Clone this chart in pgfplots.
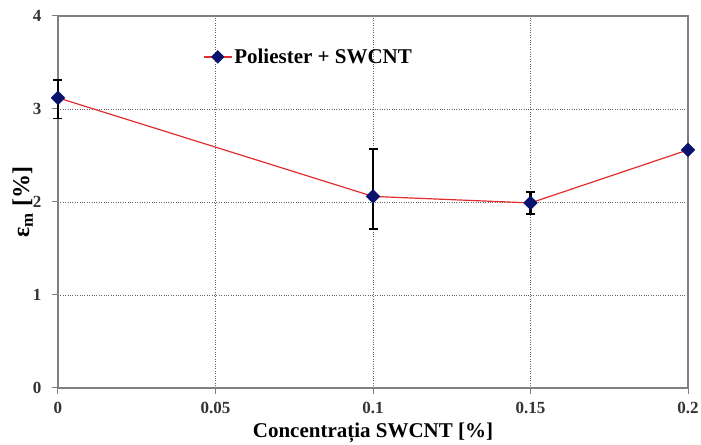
\documentclass[border=0pt]{standalone}
\usepackage{fontspec}
\setmainfont{Liberation Serif}
\usepackage{pgfplots}
\pgfplotsset{compat=1.18}
\definecolor{axgray}{RGB}{128,128,128}
\definecolor{linered}{RGB}{225,45,45}
\definecolor{navy}{RGB}{10,20,110}

\begin{document}
\begin{tikzpicture}
\begin{axis}[
  width=630pt,
  height=372pt,
  scale only axis,
  xmin=0, xmax=0.2,
  ymin=0, ymax=4,
  xtick={0,0.05,0.1,0.15,0.2},
  ytick={0,1,2,3,4},
  scaled ticks=false,
  xticklabel style={/pgf/number format/fixed,/pgf/number format/precision=2, yshift=-5pt},
  yticklabel style={xshift=-7pt},
  /pgf/number format/assume math mode=true,
  tick label style={font=\fontsize{17}{19}\selectfont\bfseries, text=black!80},
  axis line style={draw=axgray, line width=1.2pt},
  tick style={draw=axgray, line width=1pt},
  tick align=outside,
  major tick length=6pt,
  xtick pos=bottom,
  ytick pos=left,
  grid=major,
  major grid style={draw=black!60, dotted, line width=0.8pt},
  xlabel={Concentrația SWCNT [\%]},
  ylabel={ε\textsubscript{m} [\%]},
  label style={font=\fontsize{21}{24}\selectfont\bfseries},
  xlabel style={at={(axis description cs:0.5,-0.121)}, anchor=center},
  ylabel style={at={(axis description cs:-0.056,0.5)}, anchor=center,
    font=\fontsize{24}{28}\selectfont\bfseries},
  legend style={draw=none, fill=none, at={(0.23,0.89)}, anchor=west,
    font=\fontsize{21}{24}\selectfont\bfseries, inner sep=0pt},
  legend image code/.code={
    \draw[linered, line width=1.2pt] (0pt,0pt) -- (28pt,0pt);
    \draw[navy, fill=navy] plot[mark=square*, mark size=4.2pt, mark options={rotate=45}] coordinates {(14pt,0pt)};
  },
  legend cell align=left,
  clip=false,
]
\addplot[
  color=linered,
  line width=1.2pt,
  mark=square*,
  mark size=4.5pt,
  mark options={fill=navy, draw=navy, rotate=45},
  error bars/.cd,
    y dir=both, y explicit,
    error mark=-,
    error bar style={black, line width=2.8pt},
    error mark options={black, line width=1.5pt, mark size=4.5pt, rotate=90},
] coordinates {
  (0,3.12) += (0,0.19) -= (0,0.22)
  (0.1,2.06) += (0,0.51) -= (0,0.35)
  (0.15,1.99) += (0,0.12) -= (0,0.12)
  (0.2,2.56) += (0,0) -= (0,0)
};
\legend{Poliester + SWCNT}
\end{axis}
\pgfresetboundingbox
\path ([xshift=-58pt,yshift=-57pt]current axis.south west) rectangle ([xshift=13pt,yshift=16pt]current axis.north east);
\end{tikzpicture}
\end{document}
